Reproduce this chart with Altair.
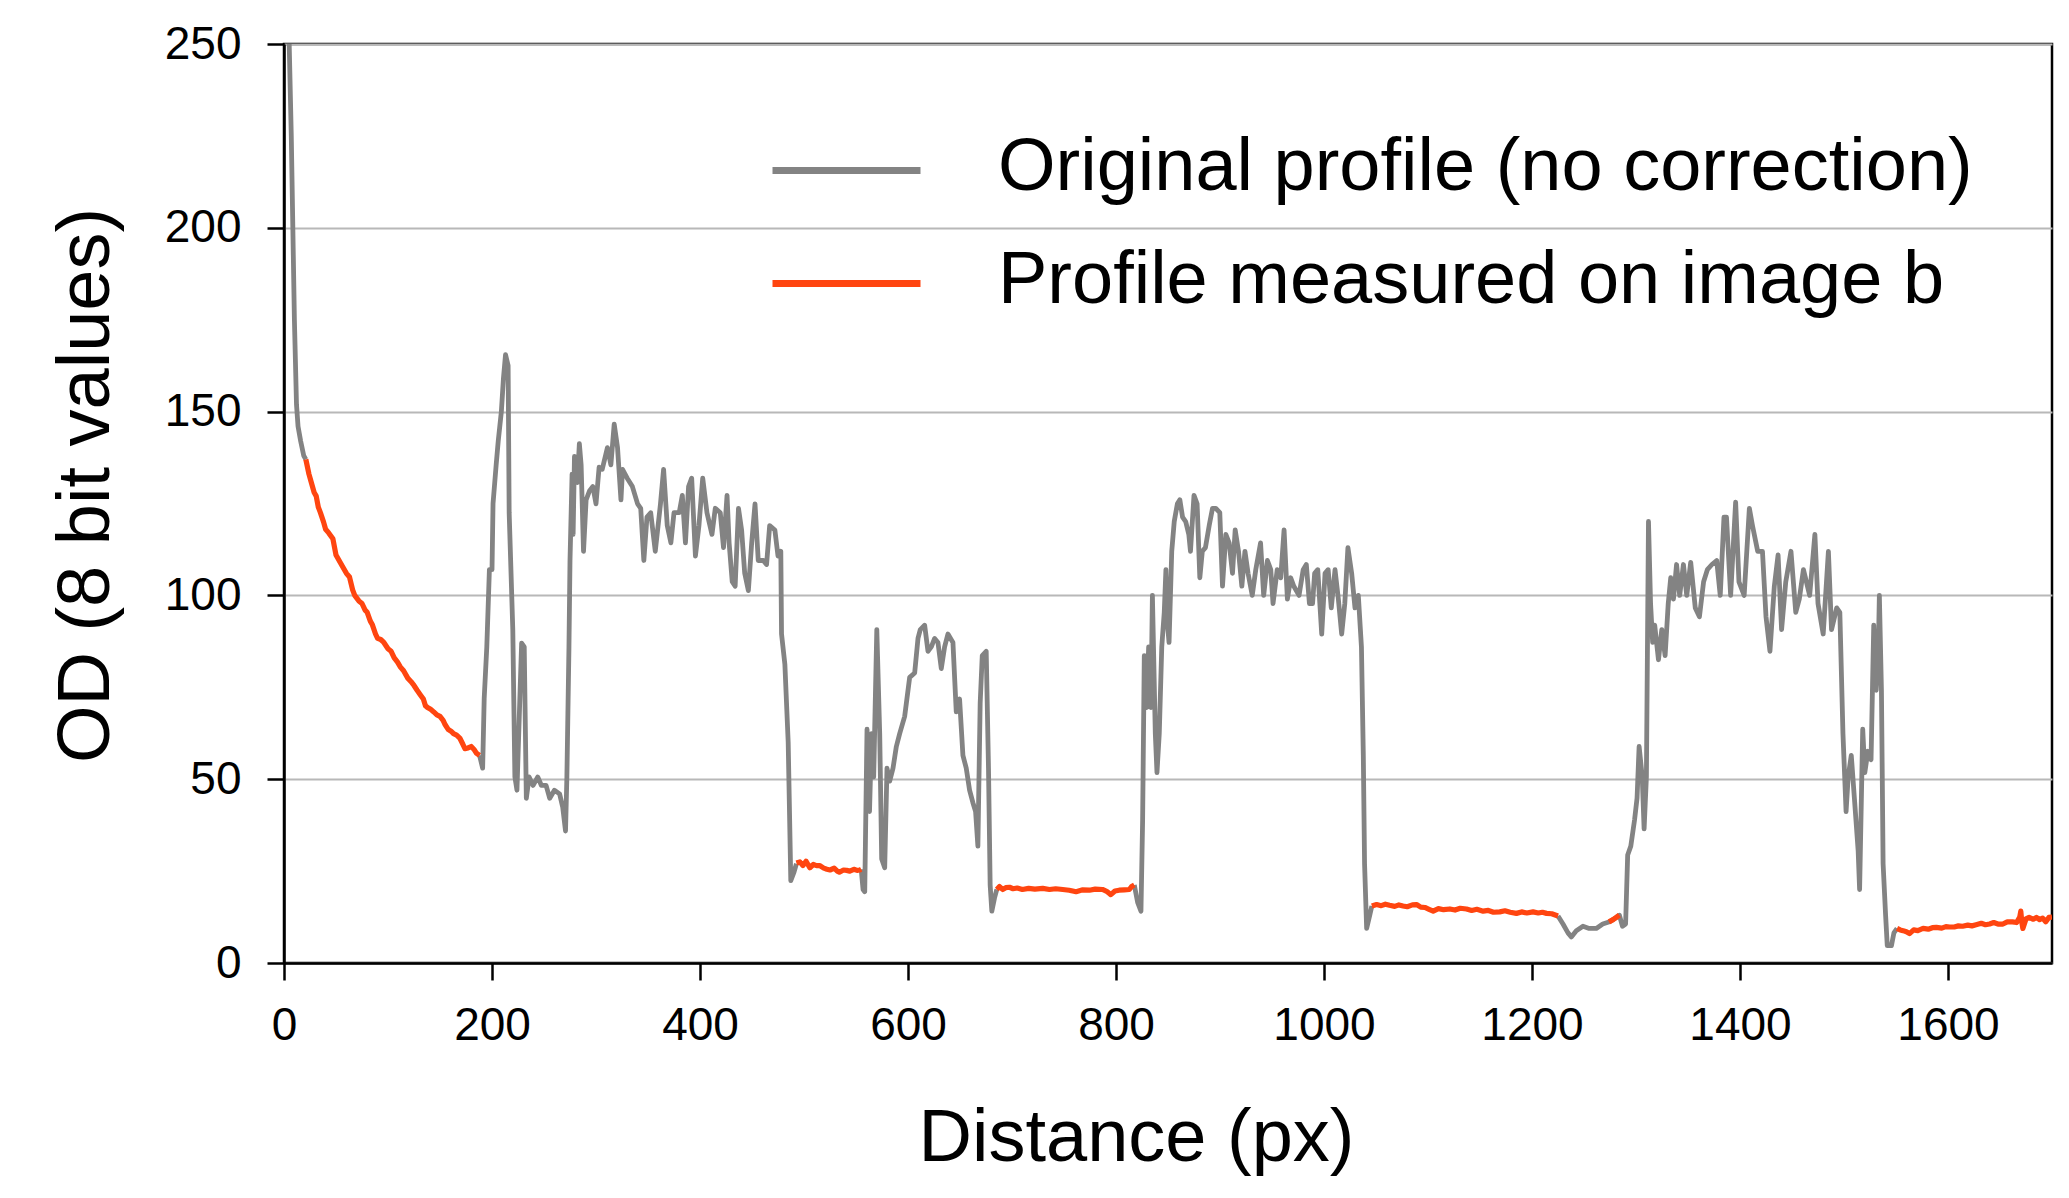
import altair as alt
import pandas as pd

SERIES_GRAY = "Original profile (no correction)"
SERIES_RED = "Profile measured on image b"

x_ticks = [0, 200, 400, 600, 800, 1000, 1200, 1400, 1600]
y_ticks = [0, 50, 100, 150, 200, 250]

# ---- Original profile (grey), visible pieces ----
g1_x = [3, 5, 7, 8.5, 10, 12, 13.5, 16, 19, 21]
g1_y = [262, 250, 225, 200, 175, 152, 146, 142, 138, 137]

g2_x = [188, 191, 192.5, 195, 197.5, 200, 201, 204, 206, 209, 211, 213, 215.5, 216.5, 220, 222, 224, 227, 228.5, 231,
        233, 235.7, 239.5, 244, 247.5, 252, 255.5, 260, 265, 268, 270.7, 272, 274, 275, 277, 278, 279.3, 282, 284, 285.7,
        288, 290.5, 293.7, 297, 300, 303, 306, 311, 314.3, 317.5, 320.7, 324, 325.5, 330, 335, 340, 343, 346, 349, 352.6,
        357, 362, 365, 368.5, 372, 375, 380, 383, 386, 389, 392, 395.6, 399, 402.6, 406.7, 411.5, 414.7, 419.5, 422.6, 426,
        428, 431, 433.8, 437, 440, 443, 446.5, 449.7, 452.9, 456, 460.9, 464, 467, 472, 475, 477.7, 478.4, 481.6, 484.8,
        487.3, 490.4, 492.7]
g2_y = [56.5, 53, 72, 86, 107, 107, 125, 135.5, 142, 150, 159, 165.5, 162.5, 122.5, 90.7, 50.6, 47, 74, 87, 86,
        44.8, 50.6, 48.3, 50.6, 48.3, 48.3, 44.8, 47, 46, 42.4, 35.9, 50.6, 86, 109.5, 133, 116.6, 137.8, 130.7, 141.3, 135.5,
        112, 126, 128.4, 129.6, 124.9, 134.9, 134.3, 140.2, 135.5, 146.6, 140.2, 126, 134.3, 131.9, 129.6, 124.9, 123.7, 109.5, 121.3, 122.5,
        112, 124.9, 134.3, 119, 114.3, 122.5, 122.5, 127.2, 114.3, 129.6, 131.9, 110.7, 119, 131.9, 122.5, 116.6, 123.7, 122.5, 113, 127.2,
        114.3, 103.7, 102.5, 123.7, 117.8, 106, 101.3, 114.3, 124.9, 109.5, 109.5, 108.4, 119, 117.8, 110.7, 112, 89.5, 81.3, 60,
        22.4, 24.7, 27]

g3_x = [555, 556.8, 558.4, 560.6, 563, 565, 567, 570, 572.8, 574.7, 577.6, 579.8, 582.4, 585.6, 588.8, 592, 596.8, 601.6,
        606.4, 609.6, 611.8, 616, 619.2, 622.4, 625.6, 628.8, 632, 635.2, 638.4, 643.2, 646.4, 649.6, 652.8, 656, 659.2,
        662.4, 665, 667.2, 669.4, 671.4, 675.2, 677.4, 679, 680.6, 683.2, 685.4]
g3_y = [25.5, 20, 19.4, 63.6, 41.2, 62.4, 50.6, 90.7, 62.4, 28.3, 25.9, 53, 49.5, 53, 58.9, 62.4, 67.1, 77.7,
        78.9, 88.3, 90.7, 91.9, 84.8, 86, 88.3, 87.2, 80.1, 86, 89.5, 87.2, 68.3, 71.8, 56.5, 53, 47,
        43.6, 41.2, 31.8, 70.7, 83.6, 84.8, 53, 21.2, 14.1, 17.7, 20]

g4_x = [817.6, 820.8, 824, 825.6, 827.2, 829.4, 831.4, 833.6, 835, 837.8, 839.4, 841.6, 844, 846.4, 848, 849.6, 851,
        853.6, 856, 859, 861.4, 864, 867, 870, 871.6, 875, 878, 880.6, 883, 886, 889.6, 892.8, 896, 899.8, 902.4, 905.6,
        908.8, 912, 914.6, 917.8, 921, 924, 927, 931, 934.4, 939, 942, 945.6, 948.8, 951, 955, 958.4, 961.6, 964.8, 968,
        971, 976, 980, 983, 986, 989, 991, 994, 997.8, 1001, 1004, 1007, 1010.6, 1013.8, 1017, 1020, 1023, 1026.6,
        1029.8, 1033, 1036, 1037.8, 1039, 1041, 1044, 1046]
g4_y = [21.2, 16.5, 14.1, 38.9, 83.6, 69.5, 86, 69.5, 100, 62.4, 51.8, 62.4, 86, 95.4, 107, 91.9, 87.2,
        112, 120.1, 124.9, 126, 121.3, 120.1, 116.6, 112, 127.2, 124.9, 104.8, 112, 113, 119, 123.7, 123.7, 122.5, 102.5, 116.6,
        114.3, 106, 117.8, 112, 102.5, 112, 106, 100, 107, 114.3, 100, 109.5, 107, 97.8, 107, 104.8, 117.8, 99, 104.8,
        102.5, 100, 107, 108.4, 97.8, 97.8, 106, 107, 89.5, 106, 107, 96.6, 107, 99, 89.5, 97.8, 113, 106,
        96.6, 100, 86, 56.5, 27, 9.4, 13, 15.5]

g5_x = [1225, 1229.8, 1234.6, 1237.8, 1242.6, 1249, 1255, 1261.8, 1268, 1274.6, 1281, 1284, 1287, 1290, 1292, 1295,
        1298.6, 1301, 1303, 1306, 1307.8, 1310, 1312, 1314, 1316, 1318, 1321.6, 1324.8, 1328, 1331, 1333.4, 1336, 1339,
        1342, 1345.6, 1348.8, 1352.6, 1357, 1361, 1365, 1368.6, 1373, 1377.6, 1381, 1384.6, 1387, 1391, 1395.8, 1399,
        1404, 1409, 1412, 1417, 1421.6, 1425, 1428.8, 1433, 1436.6, 1440, 1444, 1449, 1453.6, 1457, 1461, 1467, 1472,
        1475, 1480, 1485, 1488, 1493, 1496, 1499, 1502, 1504, 1507, 1510, 1513.6, 1515, 1518, 1520, 1523, 1526, 1528.6,
        1531, 1533, 1534, 1536, 1537.6, 1540, 1541.6, 1545.6, 1548, 1551]
g5_y = [12.8, 10.6, 8.2, 7.1, 8.8, 10, 9.4, 9.4, 10.6, 11.2, 12.4, 13, 10, 10.6, 29.4, 31.8,
        38.9, 44.8, 58.9, 50.6, 36.5, 50.6, 120.1, 97.8, 87.2, 91.9, 82.5, 90.7, 83.6, 97.8, 104.8, 99, 108.4,
        100, 108.4, 100, 109, 96.6, 94.2, 103.7, 107, 108.4, 109.5, 100, 121.3, 121.3, 100, 125.4, 103.7,
        100, 123.7, 119, 112, 112, 94.2, 84.8, 102.5, 111, 90.7, 103.7, 112, 95.4, 99, 107, 100, 116.6,
        97.8, 89.5, 112, 90.7, 96.6, 95.4, 62.4, 41.2, 50.6, 56.5, 44.8, 30.6, 20, 63.6, 51.8, 57.6, 55.3, 91.9,
        74.2, 84.8, 100, 74.2, 27, 13, 4.7, 4.7, 8.2, 9.4]

# ---- Profile measured on image b (red) ----
r1_x = [21, 24, 26, 29, 31, 33, 35, 38, 40, 43, 47, 50, 53, 56, 60, 63, 66, 68, 72, 75, 78, 80, 83, 85, 88, 90, 93, 96,
        100, 103, 106, 109, 112, 115, 119, 122, 125, 128, 131, 134, 136, 138, 141, 144, 147, 150, 153, 155, 158, 161,
        163, 166, 169, 172, 174, 177, 180, 183, 185, 188]
r1_y = [137, 133, 131, 128, 127, 124, 122.5, 120, 118, 117, 115.4, 111, 109.5, 108, 106, 105, 101.5, 100, 98.5, 97.8,
        96, 95.4, 93, 92, 89.5, 88.3, 88, 87.2, 85.5, 84.8, 83, 81.9, 80.5, 79.5, 77.5, 76.6, 75.5, 74.2, 73, 71.8, 70,
        69.5, 69, 68.3, 67.5, 67.1, 66, 64.8, 63.5, 63, 62.4, 62, 61.2, 59.5, 58.3, 58.5, 58.9, 58, 57.1, 56.5]

r2_x = [492.7, 496, 499, 502, 505.6, 509, 512, 515, 519, 522, 525, 529, 532, 534, 538, 541, 544, 548, 551, 553.6, 555]
r2_y = [27.2, 27.5, 26.5, 27.7, 25.9, 26.8, 26.5, 26.5, 25.8, 25.5, 25.3, 25.8, 25, 24.7, 25.3, 25.2, 25, 25.5, 25.2,
        25.3, 25.5]

r3_x = [685.4, 688, 691, 694, 697.6, 701, 705, 710, 716, 722, 729.6, 736, 742, 748.8, 755, 761.6, 768, 774.4, 780,
        787, 791, 795, 799, 803, 808, 812.8, 815, 817.6]
r3_y = [20, 20.8, 20, 20.5, 20.6, 20.2, 20.4, 20, 20.3, 20.1, 20.3, 20, 20.2, 20, 19.8, 19.4, 19.9, 19.8, 20.1,
        20, 19.5, 18.6, 19.6, 19.8, 19.9, 20, 20.8, 21.2]

r4_x = [1046, 1050.6, 1055, 1059, 1063, 1068, 1072, 1076, 1080, 1085, 1089, 1093, 1097, 1101, 1105, 1110, 1115, 1121,
        1126, 1131, 1137, 1142, 1147, 1153, 1158, 1163, 1169, 1174, 1179, 1185, 1190, 1195, 1201, 1206, 1210, 1214,
        1219, 1223, 1225]
r4_y = [15.5, 15.9, 15.6, 16, 15.7, 15.4, 15.8, 15.5, 15.3, 15.8, 15.9, 15.2, 15.1, 14.6, 14.1, 14.8, 14.5, 14.7,
        14.4, 14.9, 14.7, 14.3, 14.6, 14.1, 14.3, 13.8, 13.9, 14.2, 13.8, 13.5, 13.9, 13.6, 13.9, 13.6, 13.8, 13.5,
        13.4, 13, 12.8]

r5_x = [1274, 1278, 1281, 1284]
r5_y = [11.2, 11.8, 12.4, 13]

r6_x = [1551, 1554, 1556.8, 1560, 1563, 1567, 1571, 1576, 1581, 1585, 1588.8, 1594, 1598, 1601.6, 1606, 1610, 1614,
        1619, 1623, 1627, 1632, 1636, 1640, 1644, 1648, 1652.8, 1657, 1662, 1666, 1669, 1670, 1671, 1672, 1675, 1678,
        1682, 1685, 1688, 1691, 1694, 1697, 1700]
r6_y = [9.4, 9, 8.8, 8.5, 8, 9, 8.8, 9.4, 9.2, 9.6, 9.7, 9.5, 9.9, 9.8, 9.8, 10.1, 10, 10.3, 10.1, 10.4, 10.8, 10.4,
        10.6, 11, 10.6, 10.6, 11.2, 11.2, 11, 12.5, 14.1, 11, 9.4, 12, 12.4, 11.9, 12.4, 11.8, 12.2, 11.2, 12.4, 12.5]

rows = []
for seg, (xs, ys) in enumerate([(g1_x, g1_y), (g2_x, g2_y), (g3_x, g3_y), (g4_x, g4_y), (g5_x, g5_y)]):
    for xv, yv in zip(xs, ys):
        rows.append({"x": xv, "y": yv, "series": SERIES_GRAY, "seg": f"g{seg}"})
for seg, (xs, ys) in enumerate([(r1_x, r1_y), (r2_x, r2_y), (r3_x, r3_y), (r4_x, r4_y), (r5_x, r5_y), (r6_x, r6_y)]):
    for xv, yv in zip(xs, ys):
        rows.append({"x": xv, "y": yv, "series": SERIES_RED, "seg": f"r{seg}"})
df = pd.DataFrame(rows)

FONT = "Liberation Sans"

color = alt.Color(
    "series:N",
    scale=alt.Scale(domain=[SERIES_GRAY, SERIES_RED], range=["#838383", "#ff4510"]),
    legend=alt.Legend(
        title=None,
        orient="none",
        legendX=485,
        legendY=68,
        padding=0,
        symbolType="M-1,0.04H1",
        symbolSize=148 * 148,
        symbolStrokeWidth=7,
        symbolFillColor="transparent",
        clipHeight=111,
        rowPadding=2,
        labelFont=FONT,
        labelFontSize=74,
        labelColor="black",
        labelOffset=74,
        labelLimit=2000,
        labelBaseline="middle",
    ),
)

x_enc = alt.X(
    "x:Q",
    scale=alt.Scale(domain=[0, 1700], nice=False, zero=False),
    axis=alt.Axis(
        values=x_ticks,
        format="d",
        grid=False,
        tickSize=17,
        tickWidth=2.5,
        tickColor="black",
        domainColor="black",
        domainWidth=2.5,
        labelFont=FONT,
        labelFontSize=46,
        labelColor="black",
        labelPadding=23,
        labelFlush=False,
        title="Distance (px)",
        titleFont=FONT,
        titleFontSize=74,
        titleFontWeight="normal",
        titleColor="black",
        titleX=852,
        titleY=197,
        titleAlign="center",
        titleBaseline="alphabetic",
    ),
)
y_enc = alt.Y(
    "y:Q",
    scale=alt.Scale(domain=[0, 250], nice=False),
    axis=alt.Axis(
        values=y_ticks,
        format="d",
        grid=True,
        gridColor="#b8b8b8",
        gridWidth=2,
        tickSize=17,
        tickWidth=2.5,
        tickColor="black",
        domainColor="black",
        domainWidth=2.5,
        labelFont=FONT,
        labelFontSize=46,
        labelColor="black",
        labelPadding=26,
        labelFlush=False,
        title="OD (8 bit values)",
        titleFont=FONT,
        titleFontSize=74,
        titleFontWeight="normal",
        titleColor="black",
        titleAngle=270,
        titleX=-176,
        titleY=441,
        titleAlign="center",
        titleBaseline="alphabetic",
    ),
)

base = alt.Chart(df)
gray = base.transform_filter(alt.datum.series == SERIES_GRAY).mark_line(
    strokeWidth=4.8, clip=True, strokeJoin="round"
).encode(x=x_enc, y=y_enc, color=color, detail="seg:N", order="x:Q")
red = base.transform_filter(alt.datum.series == SERIES_RED).mark_line(
    strokeWidth=5.2, clip=True, strokeJoin="round"
).encode(x=x_enc, y=y_enc, color=color, detail="seg:N", order="x:Q")

chart = alt.layer(gray, red).properties(
    width=1768,
    height=919,
    autosize=alt.AutoSizeParams(type="none"),
    padding={"left": 276, "top": 36, "right": 9, "bottom": 227},
    background="white",
).configure_view(stroke="black", strokeWidth=2.5)

chart.save("out.html", embed_options={"renderer": "svg", "actions": False})
